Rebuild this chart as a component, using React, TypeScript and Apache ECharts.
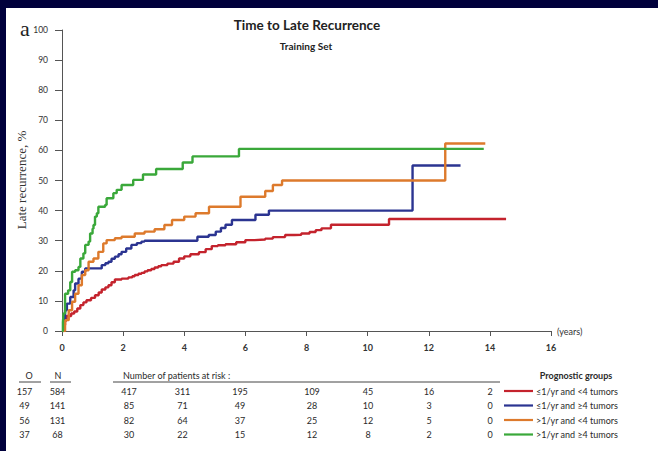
import React, { useEffect, useRef } from "react";
import * as echarts from "echarts";

const xTicks = [0, 2, 4, 6, 8, 10, 12, 14, 16];

const groupNames = [
  "≤1/yr and <4 tumors",
  "≤1/yr and ≥4 tumors",
  ">1/yr and <4 tumors",
  ">1/yr and ≥4 tumors",
];
const groupColors = ["#c4232d", "#2b3491", "#dd7a2c", "#3aa83a"];

const observed = [157, 49, 56, 37];
const totals = [584, 141, 131, 68];
const riskTimes = [2, 4, 6, 8, 10, 12, 14];
const atRisk = [
  [417, 311, 195, 109, 45, 16, 2],
  [85, 71, 49, 28, 10, 3, 0],
  [82, 64, 37, 25, 12, 5, 0],
  [30, 22, 15, 12, 8, 2, 0],
];

const redCurve = [
  [0, 0], [0.05, 2], [0.1, 3.5], [0.15, 5], [0.3, 5.8], [0.4, 6.5], [0.5, 7.5], [0.6, 8.6],
  [0.7, 9.5], [0.8, 10.2], [0.95, 11], [1.08, 11.9], [1.2, 12.8], [1.3, 13.8], [1.42, 14.5],
  [1.52, 15.2], [1.62, 16.2], [1.73, 17.1], [1.95, 17.4], [2.17, 17.8], [2.3, 18.2], [2.38, 18.6],
  [2.5, 19], [2.6, 19.3], [2.7, 19.8], [2.8, 20.2], [2.92, 20.6], [3.03, 21.1], [3.15, 21.5],
  [3.25, 21.9], [3.45, 22.4], [3.65, 23], [3.83, 24.1], [4.0, 24.8], [4.2, 25.5], [4.48, 26.2],
  [4.7, 27.2], [4.9, 28.2], [5.1, 28.5], [5.35, 28.8], [5.7, 29.5], [6.0, 30.2], [6.3, 30.4],
  [6.65, 30.7], [6.9, 31.2], [7.3, 31.9], [7.6, 32.0], [7.83, 32.4], [8.1, 32.9], [8.3, 33.5],
  [8.49, 34.1], [8.8, 35.3], [10.7, 37.2], [14.53, 37.2],
];
const blueCurve = [
  [0, 0], [0.05, 3.6], [0.1, 6.9], [0.16, 9.1], [0.27, 11.3], [0.38, 13.5], [0.43, 15.8],
  [0.54, 17.4], [0.65, 19.7], [0.76, 20.8], [1.3, 21.9], [1.42, 22.5], [1.52, 23], [1.62, 24],
  [1.73, 24.7], [1.85, 25.5], [1.95, 26.3], [2.1, 27.4], [2.27, 28.6], [2.45, 29.2], [2.6, 29.7],
  [2.7, 30], [4.43, 31.3], [4.8, 31.9], [5.03, 33], [5.2, 34.2], [5.35, 35.3], [5.56, 36.9],
  [6.33, 38.6], [6.77, 40], [11.47, 55], [13.04, 55],
];
const orangeCurve = [
  [0, 0], [0.1, 3.6], [0.22, 6.9], [0.33, 9.7], [0.43, 12.4], [0.54, 15.2], [0.65, 18.6],
  [0.76, 20.2], [0.87, 23], [1.03, 24.1], [1.19, 26.3], [1.35, 29.1], [1.46, 30.2], [1.73, 30.8],
  [1.95, 31.3], [2.38, 32.4], [2.7, 33], [3.03, 33.8], [3.35, 35.2], [3.6, 36.9], [4.0, 38],
  [4.37, 39.1], [4.81, 41.3], [5.84, 44.6], [6.65, 46.5], [6.9, 48.5], [7.2, 50], [12.54, 62.3],
  [13.85, 62.3],
];
const greenCurve = [
  [0, 0], [0.03, 3], [0.05, 5.8], [0.1, 12.4], [0.2, 13.5], [0.27, 16.3], [0.33, 19.7],
  [0.43, 20.2], [0.54, 21.3], [0.6, 24.1], [0.7, 25.8], [0.76, 28.6], [0.87, 29.7], [0.92, 32.4],
  [1.0, 34], [1.03, 35.2], [1.08, 38], [1.14, 39.1], [1.19, 41.3], [1.41, 41.9], [1.46, 44.1],
  [1.68, 45.8], [1.79, 46.9], [1.95, 48.5], [2.33, 50.2], [2.65, 52], [3.08, 53.8], [3.95, 56],
  [4.27, 58], [5.79, 60.5], [13.8, 60.5],
];
const curves = [redCurve, blueCurve, orangeCurve, greenCurve];

const SANS = "Lato, 'Noto Sans', sans-serif";
const SERIF = "'Liberation Serif', 'DejaVu Serif', serif";

export default function App() {
  const ref = useRef<HTMLDivElement>(null);

  useEffect(() => {
    document.body.style.margin = "0";
    if (!ref.current) return;
    const chart = echarts.init(ref.current, undefined, { renderer: "svg" });

    const rowY = [391, 405.5, 420, 434.5];
    const riskX = [129, 182.5, 240, 312, 368, 429, 490];
    const txt = (x: number, y: number, text: string, extra: any = {}) => ({
      type: "text",
      x,
      y,
      style: {
        text,
        fill: "#2a2a2a",
        font: `9px ${SANS}`,
        textAlign: "center",
        textVerticalAlign: "middle",
        ...extra,
      },
    });
    const graphics: any[] = [
      txt(20, 28, "a", { font: `22px ${SERIF}`, textAlign: "left", fill: "#222" }),
      {
        type: "text",
        x: 21,
        y: 180,
        rotation: Math.PI / 2,
        style: {
          text: "Late recurrence, %",
          fill: "#333",
          font: `13px ${SERIF}`,
          textAlign: "center",
          textVerticalAlign: "middle",
        },
      },
      txt(307, 25, "Time to Late Recurrence", { font: `bold 13.5px ${SANS}`, fill: "#222" }),
      txt(306, 46, "Training Set", { font: `bold 10px ${SANS}`, fill: "#222" }),
      txt(29, 375, "O"),
      txt(58, 375, "N"),
      { type: "line", shape: { x1: 19, y1: 382, x2: 41, y2: 382 }, style: { stroke: "#444", lineWidth: 1 } },
      { type: "line", shape: { x1: 50, y1: 382, x2: 71, y2: 382 }, style: { stroke: "#444", lineWidth: 1 } },
      { type: "line", shape: { x1: 113, y1: 382, x2: 500, y2: 382 }, style: { stroke: "#444", lineWidth: 1 } },
      txt(123, 375, "Number of patients at risk :", { textAlign: "left" }),
      txt(576, 375, "Prognostic groups", { font: `bold 9px ${SANS}` }),
    ];
    groupNames.forEach((name, i) => {
      const y = rowY[i];
      graphics.push(txt(24.5, y, String(observed[i])));
      graphics.push(txt(57.5, y, String(totals[i])));
      atRisk[i].forEach((v, j) => {
        graphics.push(txt(riskX[j], y, String(v)));
      });
      graphics.push({
        type: "line",
        shape: { x1: 504, y1: y, x2: 533, y2: y },
        style: { stroke: groupColors[i], lineWidth: 2.2 },
      });
      graphics.push(txt(536, y, name, { textAlign: "left" }));
    });

    chart.setOption({
      animation: false,
      backgroundColor: "transparent",
      grid: { left: 62, right: 107, top: 30, bottom: 120, containLabel: false },
      xAxis: {
        type: "value",
        min: 0,
        max: 16,
        interval: 2,
        name: "(years)",
        nameLocation: "end",
        nameGap: 6,
        nameTextStyle: { color: "#333", fontFamily: SANS, fontSize: 9, verticalAlign: "middle" },
        axisLine: { show: true, lineStyle: { color: "#555", width: 1 } },
        axisTick: { show: true, length: 5, lineStyle: { color: "#555" } },
        axisLabel: {
          color: "#333",
          fontFamily: SANS,
          fontSize: 9,
          fontWeight: "bold",
          margin: 12,
          formatter: (v: number) => (xTicks.includes(v) ? String(v) : ""),
        },
        splitLine: { show: false },
      },
      yAxis: {
        type: "value",
        min: 0,
        max: 100,
        interval: 10,
        axisLine: { show: true, lineStyle: { color: "#555", width: 1 } },
        axisTick: { show: true, length: 7, lineStyle: { color: "#555" } },
        axisLabel: { color: "#333", fontFamily: SANS, fontSize: 8.5, margin: 14 },
        splitLine: { show: false },
      },
      series: curves.map((data, i) => ({
        type: "line",
        name: groupNames[i],
        step: "end",
        data,
        showSymbol: false,
        symbol: "none",
        lineStyle: { color: groupColors[i], width: 2.4 },
        z: 2 + i,
      })),
      graphic: graphics,
    });

    return () => chart.dispose();
  }, []);

  return (
    <div style={{ position: "relative", width: 658, height: 451, background: "#00003c", overflow: "hidden" }}>
      <div style={{ position: "absolute", left: 6, top: 8, right: 0, bottom: 0, background: "#ffffff" }} />
      <div ref={ref} style={{ position: "absolute", left: 0, top: 0, width: 658, height: 451 }} />
    </div>
  );
}
